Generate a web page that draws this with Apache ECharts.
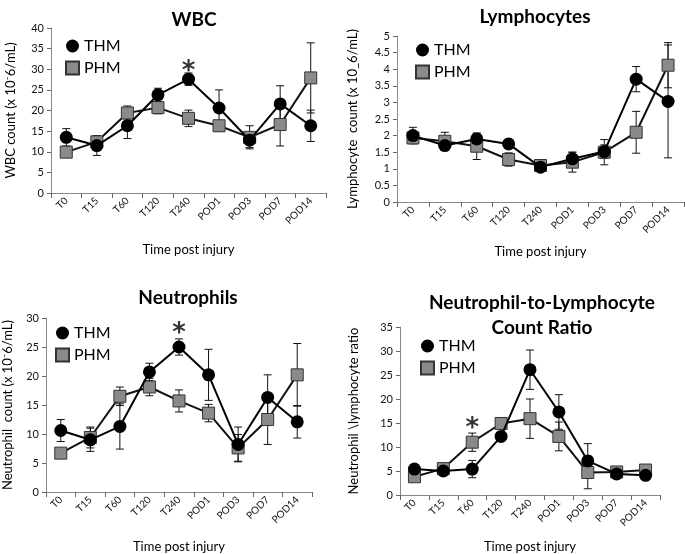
<!DOCTYPE html>
<html><head><meta charset="utf-8">
<script src="https://cdn.jsdelivr.net/npm/echarts@6/dist/echarts.min.js"></script>
<style>html,body{margin:0;padding:0;background:#fff}#c{width:685px;height:554px}</style>
</head><body><div id="c"></div>
<script>
const categories = ['T0','T15','T60','T120','T240','POD1','POD3','POD7','POD14'];

const wbcTHM    = [13.5, 11.5, 16.3, 23.8, 27.6, 20.6, 12.8, 21.6, 16.3];
const wbcTHMErr = [2.1, 2.4, 3.1, 1.6, 1.5, 4.4, 1.8, 4.4, 3.8];
const wbcPHM    = [9.9, 12.4, 19.4, 20.7, 18.1, 16.3, 13.5, 16.6, 27.9];
const wbcPHMErr = [1.0, 1.5, 1.7, 1.5, 2.0, 1.3, 2.8, 5.2, 8.5];
const wbcStars  = [['T240', 30.8]];

const lymTHM    = [2.0, 1.7, 1.9, 1.75, 1.05, 1.3, 1.52, 3.7, 3.03];
const lymTHMErr = [0.25, 0.12, 0.15, 0.05, 0.08, 0.2, 0.2, 0.38, 1.7];
const lymPHM    = [1.93, 1.83, 1.68, 1.28, 1.1, 1.2, 1.5, 2.1, 4.12];
const lymPHMErr = [0.15, 0.27, 0.4, 0.2, 0.08, 0.3, 0.38, 0.63, 0.68];

const neuTHM    = [10.6, 9.0, 11.3, 20.7, 25.0, 20.2, 8.2, 16.3, 12.1];
const neuTHMErr = [1.9, 2.0, 3.9, 1.5, 1.4, 4.4, 3.0, 3.9, 2.8];
const neuPHM    = [6.7, 9.4, 16.5, 18.1, 15.7, 13.6, 7.6, 12.5, 20.2];
const neuPHMErr = [0.8, 1.8, 1.6, 1.5, 1.9, 1.5, 2.3, 4.3, 5.4];
const neuStars  = [['T240', 28.2]];

const nlrTHM    = [5.4, 5.0, 5.4, 12.2, 26.1, 17.3, 7.1, 4.4, 4.1];
const nlrTHMErr = [0.6, 0.5, 1.8, 0.6, 4.1, 3.6, 3.6, 0.4, 0.4];
const nlrPHM    = [3.8, 5.5, 11.0, 14.9, 15.9, 12.2, 4.7, 4.8, 5.2];
const nlrPHMErr = [0.6, 0.6, 1.9, 0.6, 4.1, 3.0, 3.4, 0.4, 0.4];
const nlrStars  = [['T60', 15.0]];

const FONT = 'Lato, "Open Sans", sans-serif';

const panels = [
  {title:'WBC', yName:'WBC count (x 10\u207B6/mL)', max:40, interval:5, thm:wbcTHM, thmErr:wbcTHMErr, phm:wbcPHM, phmErr:wbcPHMErr, stars:wbcStars,
   grid:{left:51, right:359, top:28, bottom:361}, yGap:34, xGap:50, titlePos:[189,2], legendPos:[60,33]},
  {title:'Lymphocytes', yName:'Lymphocyte  count (x 10_6/mL)', max:5, interval:0.5, thm:lymTHM, thmErr:lymTHMErr, phm:lymPHM, phmErr:lymPHMErr, stars:[],
   grid:{left:397, right:1, top:36, bottom:352}, yGap:38, xGap:43, titlePos:[530,-1], legendPos:[410,37]},
  {title:'Neutrophils', yName:'Neutrophil  count (x 10\u207B6/mL)', max:30, interval:5, thm:neuTHM, thmErr:neuTHMErr, phm:neuPHM, phmErr:neuPHMErr, stars:neuStars,
   grid:{left:43, right:373, top:318, bottom:62}, yGap:32, xGap:48, titlePos:[183,280], legendPos:[50,320]},
  {title:'Neutrophil-to-Lymphocyte\nCount Ratio', yName:'Neutrophil \\lymphocyte ratio', max:35, interval:5, thm:nlrTHM, thmErr:nlrTHMErr, phm:nlrPHM, phmErr:nlrPHMErr, stars:nlrStars,
   grid:{left:400, right:25, top:327, bottom:59}, yGap:40, xGap:45, titlePos:[537,285], legendPos:[415,333]}
];

function errRender(params, api){
  const x = api.value(0), v = api.value(1), e = api.value(2);
  const top = api.coord([x, v + e]);
  const bot = api.coord([x, v - e]);
  const hw = 4;
  const st = {stroke:'#111', lineWidth:1};
  return {type:'group', children:[
    {type:'line', shape:{x1:top[0], y1:top[1], x2:bot[0], y2:bot[1]}, style:st},
    {type:'line', shape:{x1:top[0]-hw, y1:top[1], x2:top[0]+hw, y2:top[1]}, style:st},
    {type:'line', shape:{x1:bot[0]-hw, y1:bot[1], x2:bot[0]+hw, y2:bot[1]}, style:st}
  ]};
}

const option = {animation:false, textStyle:{fontFamily:FONT}, title:[], legend:[], grid:[], xAxis:[], yAxis:[], series:[]};

panels.forEach((p, i) => {
  option.title.push({text:p.title, left:p.titlePos[0], top:p.titlePos[1], textAlign:'center',
    textStyle:{fontFamily:FONT, fontSize:19, fontWeight:'bold', color:'#000', lineHeight:25}});
  option.grid.push(Object.assign({containLabel:false}, p.grid));
  option.legend.push({left:p.legendPos[0], top:p.legendPos[1], orient:'vertical', itemWidth:13, itemHeight:13, itemGap:6,
    textStyle:{fontFamily:FONT, fontSize:16, color:'#000'},
    data:[{name:'THM', icon:'circle'}, {name:'PHM', icon:'rect'}]});
  option.xAxis.push({type:'category', gridIndex:i, data:categories, boundaryGap:true,
    name:'Time post injury', nameLocation:'middle', nameGap:p.xGap,
    nameTextStyle:{fontFamily:FONT, fontSize:13, color:'#000'},
    axisLine:{lineStyle:{color:'#888', width:1}},
    axisTick:{show:true, length:5, alignWithLabel:false, lineStyle:{color:'#666'}},
    axisLabel:{rotate:45, fontSize:10, color:'#111', margin:6, interval:0, fontFamily:FONT},
    splitLine:{show:false}});
  option.yAxis.push({type:'value', gridIndex:i, min:0, max:p.max, interval:p.interval,
    name:p.yName, nameLocation:'middle', nameGap:p.yGap, nameRotate:90,
    nameTextStyle:{fontFamily:FONT, fontSize:13, color:'#000'},
    axisLine:{show:true, lineStyle:{color:'#888', width:1}},
    axisTick:{show:true, length:4, lineStyle:{color:'#666'}},
    axisLabel:{fontSize:11, color:'#111', margin:7, fontFamily:FONT},
    splitLine:{show:false}});
  const idx = categories.map((c, k) => k);
  option.series.push({type:'custom', name:'THM err', xAxisIndex:i, yAxisIndex:i, z:1,
    renderItem:errRender, data:idx.map(k => [k, p.thm[k], p.thmErr[k]]), encode:{x:0, y:1}, silent:true});
  option.series.push({type:'custom', name:'PHM err', xAxisIndex:i, yAxisIndex:i, z:1,
    renderItem:errRender, data:idx.map(k => [k, p.phm[k], p.phmErr[k]]), encode:{x:0, y:1}, silent:true});
  option.series.push({type:'line', name:'PHM', xAxisIndex:i, yAxisIndex:i, z:3, data:p.phm,
    symbol:'rect', symbolSize:12,
    itemStyle:{color:'#8a8a8a', borderColor:'#333', borderWidth:1},
    lineStyle:{color:'#111', width:2}});
  option.series.push({type:'line', name:'THM', xAxisIndex:i, yAxisIndex:i, z:4, data:p.thm,
    symbol:'circle', symbolSize:13,
    itemStyle:{color:'#000', borderColor:'#000', borderWidth:0},
    lineStyle:{color:'#000', width:2}});
  if (p.stars.length){
    option.series.push({type:'scatter', name:'sig', xAxisIndex:i, yAxisIndex:i, z:5, symbolSize:1,
      itemStyle:{color:'rgba(0,0,0,0)'},
      data:p.stars,
      label:{show:true, position:'inside', formatter:'*', fontSize:26, fontWeight:'bold', color:'#000', fontFamily:'"DejaVu Sans", sans-serif', offset:[0,6]}});
  }
});

const chart = echarts.init(document.getElementById('c'), null, {renderer:'canvas'});
chart.setOption(option);
</script>
</body></html>
